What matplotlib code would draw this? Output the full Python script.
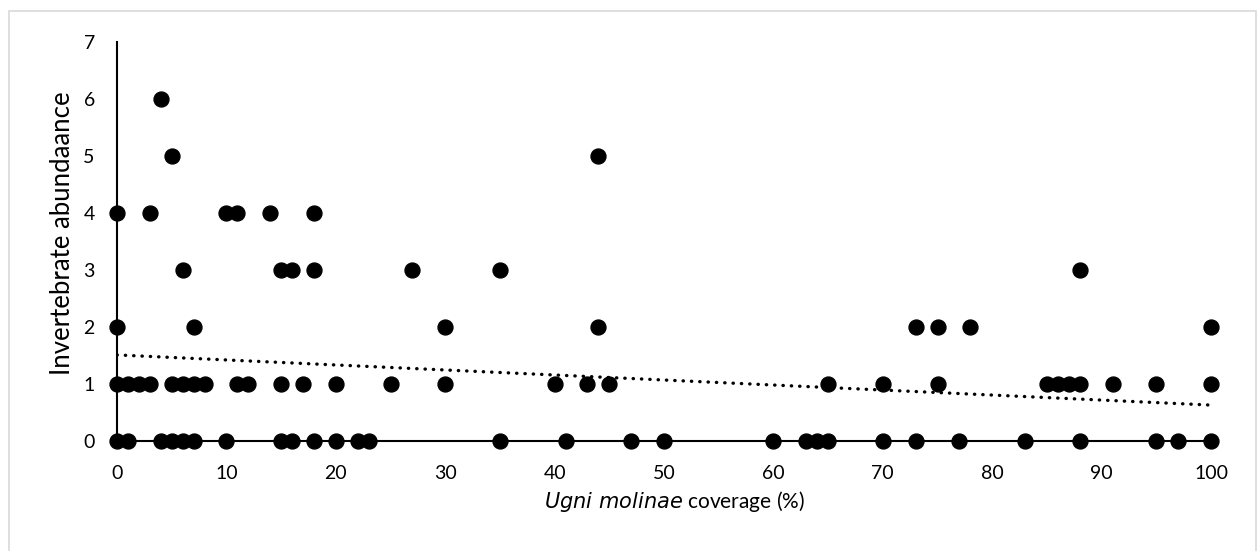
import numpy as np
import matplotlib
matplotlib.use("Agg")
import matplotlib.pyplot as plt
from matplotlib.patches import Rectangle

# Ugni molinae coverage (%) and invertebrate counts, grouped by abundance level
cov_6 = [4]
cov_5 = [5, 44]
cov_4 = [0, 3, 10, 11, 14, 18]
cov_3 = [6, 15, 16, 18, 27, 35, 88]
cov_2 = [0, 7, 30, 44, 73, 75, 78, 100]
cov_1 = [0, 1, 2, 3, 5, 6, 7, 8, 11, 12, 15, 17, 20, 25, 30, 40, 43, 45,
         65, 70, 75, 85, 86, 87, 88, 91, 95, 100]
cov_0 = [0, 1, 4, 5, 6, 7, 10, 15, 16, 18, 20, 22, 23, 35, 41, 47, 50, 60,
         63, 64, 65, 70, 73, 77, 83, 88, 95, 97, 100]

# linear trend line (intercept, slope)
trend_intercept = 1.51
trend_slope = -0.0088

x_ticks = list(range(0, 101, 10))
y_ticks = list(range(0, 8))

groups = {6: cov_6, 5: cov_5, 4: cov_4, 3: cov_3, 2: cov_2, 1: cov_1, 0: cov_0}
coverage = np.array([c for lvl, cs in groups.items() for c in cs], dtype=float)
abundance = np.array([lvl for lvl, cs in groups.items() for _ in cs], dtype=float)

plt.rcParams['font.family'] = ['Lato', 'DejaVu Sans']

W, H = 1258, 551
fig = plt.figure(figsize=(W / 100, H / 100), dpi=100)
ax = fig.add_axes([117 / W, 110 / H, 1094 / W, 399 / H])

# light grey frame around the chart area
fig.patches.append(Rectangle((9 / W, -0.05), 1247 / W, (H - 11) / H + 0.05,
                             transform=fig.transFigure, fill=False,
                             edgecolor='#d9d9d9', linewidth=1.2))

ax.scatter(coverage, abundance, s=115, color='black', zorder=3, clip_on=False)

xs = np.array([0, 100])
ax.plot(xs, trend_intercept + trend_slope * xs, linestyle=(0, (0.1, 2.4)),
        color='black', linewidth=2.4, dash_capstyle='round', zorder=2)

ax.set_xlim(0, 100)
ax.set_ylim(0, 7)
ax.set_xticks(x_ticks)
ax.set_yticks(y_ticks)
ax.tick_params(axis='both', length=0, labelsize=14, colors='#000000')
ax.tick_params(axis='x', pad=17)
ax.tick_params(axis='y', pad=16)

for side in ('top', 'right'):
    ax.spines[side].set_visible(False)
for side in ('left', 'bottom'):
    ax.spines[side].set_linewidth(1.5)
    ax.spines[side].set_color('black')

ax.set_xlabel(r'$\it{Ugni\ molinae}$ coverage (%)', fontsize=15)
ax.set_ylabel('Invertebrate abundaance', fontsize=18.5)
ax.xaxis.set_label_coords((674 - 117) / 1094, (441 - 489) / 399)
ax.yaxis.set_label_coords((75 - 117) / 1094, (441 - 233) / 399)

fig.savefig('out.png', dpi=100)
